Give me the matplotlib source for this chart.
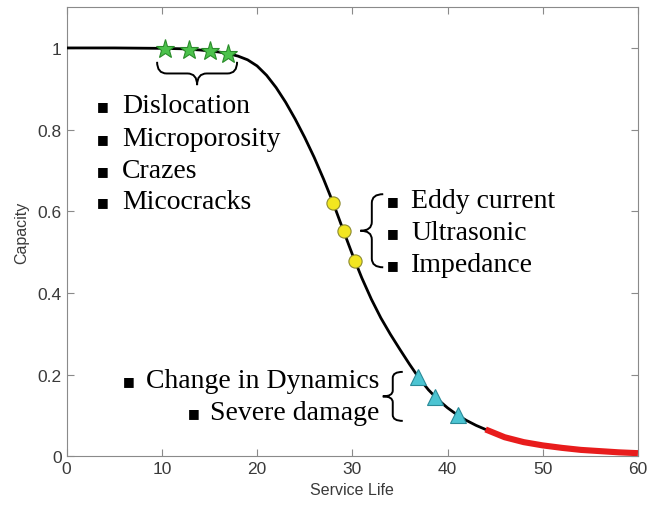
import matplotlib.pyplot as plt
from matplotlib.path import Path
from matplotlib.patches import PathPatch

# capacity curve
curve_x = [0, 5, 10, 12, 14, 16, 17, 18, 19, 20, 21, 22, 23, 24, 25, 26, 27,
           28, 29, 30, 31, 32, 33, 34, 35, 36, 37, 38, 39, 40, 41, 42, 43, 44,
           46, 48, 50, 52, 54, 56, 58, 60]
curve_y = [1.0, 1.0, 0.999, 0.998, 0.995, 0.990, 0.986, 0.980, 0.971, 0.956,
           0.933, 0.903, 0.867, 0.826, 0.781, 0.732, 0.678, 0.620, 0.557,
           0.495, 0.437, 0.385, 0.339, 0.299, 0.262, 0.226, 0.192, 0.163,
           0.139, 0.119, 0.102, 0.088, 0.076, 0.066, 0.047, 0.035, 0.027,
           0.021, 0.016, 0.013, 0.010, 0.008]
red_from = 44

stars_x = [10.3, 12.8, 15.1, 16.9]
stars_y = [0.997, 0.996, 0.992, 0.986]
circles_x = [28.0, 29.1, 30.3]
circles_y = [0.620, 0.552, 0.478]
tri_x = [36.9, 38.7, 41.1]
tri_y = [0.195, 0.146, 0.101]

group1 = ["Dislocation", "Microporosity", "Crazes", "Micocracks"]
group2 = ["Eddy current", "Ultrasonic", "Impedance"]
group3 = ["Change in Dynamics", "Severe damage"]

serif = ["Liberation Serif", "DejaVu Serif"]
sans = ["Liberation Sans", "DejaVu Sans"]


def brace(ax, p0, p1, tip):
    # curly brace from p0 to p1, its middle point pushed by the vector tip
    (x0, y0), (x1, y1), (tx, ty) = p0, p1, tip

    def pt(t, d):
        return (x0 + t * (x1 - x0) + d * tx, y0 + t * (y1 - y0) + d * ty)

    a = 0.12
    verts = [pt(0, 0), pt(0, 0.5), pt(a, 0.5), pt(0.5 - a, 0.5),
             pt(0.5, 0.5), pt(0.5, 1), pt(0.5, 0.5), pt(0.5 + a, 0.5),
             pt(1 - a, 0.5), pt(1, 0.5), pt(1, 0)]
    codes = [Path.MOVETO, Path.CURVE3, Path.CURVE3, Path.LINETO,
             Path.CURVE3, Path.CURVE3, Path.CURVE3, Path.CURVE3,
             Path.LINETO, Path.CURVE3, Path.CURVE3]
    ax.add_patch(PathPatch(Path(verts, codes), fill=False, lw=1.4,
                           color="black", zorder=4))


def bullet(ax, x, y):
    ax.text(x, y, "\u25a0", fontsize=9, family="DejaVu Sans",
            ha="center", va="center")


def bullet_list(ax, items, bx, tx, ys):
    for name, y in zip(items, ys):
        bullet(ax, bx, y)
        ax.text(tx, y, name, fontsize=20, family=serif, ha="left",
                va="center")


fig = plt.figure(figsize=(6.47, 5.06), dpi=100)
ax = fig.add_axes([0.103, 0.096, 0.883, 0.888])

bx = [x for x in curve_x if x <= red_from]
ax.plot(bx, curve_y[:len(bx)], color="black", lw=2, zorder=3)
i = curve_x.index(red_from)
ax.plot(curve_x[i:], curve_y[i:], color="#e81c1c", lw=4.4,
        solid_capstyle="butt", zorder=3)

ax.plot(stars_x, stars_y, "*", ms=14, mfc="#4cc24c", mec="#2a8c2a",
        mew=0.8, zorder=5)
ax.plot(circles_x, circles_y, "o", ms=9.5, mfc="#f2e620", mec="#8c8a30",
        mew=0.8, zorder=5)
ax.plot(tri_x, tri_y, "^", ms=12, mfc="#4cc4d2", mec="#2a8a98",
        mew=0.8, zorder=5)

bullet_list(ax, group1, 3.8, 5.8, [0.858, 0.779, 0.700, 0.623])
bullet_list(ax, group2, 34.3, 36.2, [0.626, 0.548, 0.469])
bullet(ax, 6.5, 0.185)
ax.text(32.8, 0.185, group3[0], fontsize=20, family=serif, ha="right",
        va="center")
bullet(ax, 13.3, 0.108)
ax.text(32.8, 0.108, group3[1], fontsize=20, family=serif, ha="right",
        va="center")

brace(ax, (9.5, 0.966), (17.9, 0.966), (0, -0.057))
brace(ax, (33.25, 0.642), (33.25, 0.463), (-2.4, 0))
brace(ax, (35.3, 0.207), (35.3, 0.087), (-2.1, 0))

ax.set_xlim(0, 60)
ax.set_ylim(0, 1.1)
ax.set_xticks(range(0, 61, 10))
ax.set_yticks([0, 0.2, 0.4, 0.6, 0.8, 1])
ax.set_yticklabels(["0", "0.2", "0.4", "0.6", "0.8", "1"])
ax.tick_params(direction="in", top=True, right=True, length=5,
               color="#8a8a8a", labelsize=12.5, labelcolor="#3a3a3a")
for lab in ax.get_xticklabels() + ax.get_yticklabels():
    lab.set_family(sans)
for s in ax.spines.values():
    s.set_color("#8a8a8a")
ax.set_xlabel("Service Life", fontsize=11.5, color="#3a3a3a", labelpad=4,
              family=sans)
ax.set_ylabel("Capacity", fontsize=11.5, color="#3a3a3a", labelpad=6,
              family=sans)

fig.savefig("out.png", dpi=100)
